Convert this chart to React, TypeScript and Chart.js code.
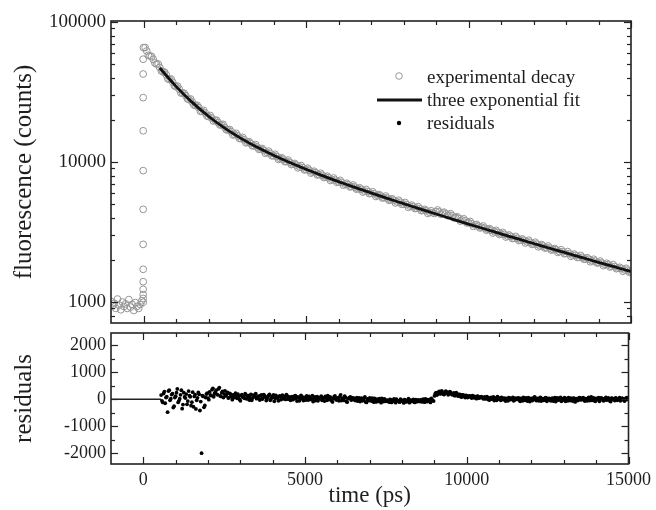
import { useEffect, useRef } from "react";
import { Chart, registerables } from "chart.js";

Chart.register(...registerables);

// ---------- data ----------
const legendLabels = ["experimental decay", "three exponential fit", "residuals"];
const xTickLabels = [0, 5000, 10000, 15000];
const xMinorTicks = [1000, 2000, 3000, 4000, 6000, 7000, 8000, 9000, 11000, 12000, 13000, 14000];
const decayTickLabels = [1000, 10000, 100000];
const decayMinorTicks = [800, 900, 2000, 3000, 4000, 5000, 6000, 7000, 8000, 9000, 20000, 30000, 40000, 50000, 60000, 70000, 80000, 90000];
const residualTickLabels = [-2000, -1000, 0, 1000, 2000];
const residualMinorTicks = [-1500, -500, 500, 1500];

const baselineTimes = [-1000, -950, -900, -850, -800, -750, -700, -650, -600, -550, -500, -450, -400, -350, -300, -250, -200, -150, -100, -50];
const baselineCounts = [1010, 940, 980, 900, 1050, 950, 880, 1000, 930, 970, 900, 1040, 920, 960, 870, 990, 930, 900, 960, 1020];

const riseTime = -10;
const riseCounts = [995, 1060, 1130, 1233, 1396, 1713, 2580, 4590, 8670, 16700, 28800, 42500, 54200];

// decay channels at 0, 100, 200 ... 15000 ps
const decayStartTime = 0;
const decayTimeStep = 100;
const decayCounts = [
  65500, 62100, 57200, 54100, 50000, 47300, 44000, 41900, 38900, 37100,
  34500, 33100, 31000, 29800, 27900, 26800, 25300, 24500, 23000, 22400,
  21100, 20600, 19850, 19100, 18400, 17650, 17000, 16450, 15750, 15350,
  14700, 14400, 13850, 13560, 13050, 12780, 12350, 12130, 11700, 11510,
  11100, 10950, 10590, 10440, 10090, 9950, 9640, 9510, 9230, 9100,
  8830, 8720, 8470, 8370, 8120, 8030, 7800, 7720, 7500, 7420,
  7210, 7140, 6940, 6880, 6680, 6620, 6440, 6380, 6200, 6150,
  5980, 5930, 5770, 5720, 5570, 5520, 5370, 5330, 5190, 5150,
  5010, 4970, 4840, 4800, 4680, 4640, 4520, 4480, 4370, 4340,
  4420, 4400, 4330, 4260, 4180, 4130, 4010, 3960, 3850, 3800,
  3690, 3620, 3550, 3480, 3420, 3370, 3300, 3250, 3180, 3140,
  3070, 3040, 2960, 2940, 2860, 2850, 2770, 2760, 2690, 2670,
  2600, 2590, 2520, 2510, 2440, 2430, 2370, 2360, 2295, 2285,
  2225, 2215, 2160, 2150, 2090, 2085, 2030, 2020, 1970, 1960,
  1910, 1900, 1855, 1845, 1800, 1790, 1745, 1735, 1695, 1685,
  1645,
];
// interleaved channels at 50, 150, 250 ... 14950 ps
const decayMidStartTime = 50;
const decayMidCounts = [
  65700, 57800, 56700, 51000, 50100, 44700, 43800, 39200, 39100, 35100,
  34800, 31100, 31000, 28270, 28170, 25530, 25400, 23040, 23380, 21320,
  21480, 19610, 19860, 18380, 18560, 16970, 17050, 15620, 16020, 14720,
  14990, 13700, 13970, 13030, 13300, 12310, 12480, 11550, 11950, 11070,
  11350, 10450, 10720, 10050, 10320, 9590, 9760, 9090, 9430, 8780,
  9030, 8330, 8590, 8080, 8310, 7750, 7920, 7380, 7680, 7160,
  7390, 6830, 7050, 6640, 6850, 6400, 6540, 6100, 6360, 5940,
  6130, 5670, 5850, 5530, 5710, 5330, 5460, 5100, 5330, 4980,
  5140, 4750, 4920, 4650, 4800, 4490, 4590, 4290, 4480, 4290,
  4540, 4230, 4380, 4140, 4270, 3990, 4060, 3780, 3930, 3670,
  3760, 3470, 3580, 3380, 3490, 3260, 3340, 3110, 3250, 3040,
  3140, 2910, 3010, 2840, 2940, 2750, 2820, 2640, 2760, 2580,
  2670, 2480, 2570, 2430, 2510, 2350, 2410, 2260, 2360, 2210,
  2290, 2120, 2200, 2080, 2150, 2020, 2070, 1940, 2020, 1900,
  1960, 1820, 1890, 1780, 1850, 1730, 1770, 1660, 1740, 1630,
];

const fitTimes = [500, 1000, 1500, 2000, 2500, 3000, 3500, 4000, 4500, 5000, 5500, 6000, 6500, 7000, 7500, 8000, 8500, 9000, 9500, 10000, 10500, 11000, 11500, 12000, 12500, 13000, 13500, 14000, 14500, 15000];
const fitCounts = [46937, 34682, 26640, 21222, 17457, 14746, 12723, 11157, 9902, 8868, 7997, 7246, 6592, 6014, 5501, 5041, 4626, 4251, 3913, 3604, 3322, 3066, 2832, 2618, 2421, 2240, 2073, 1920, 1780, 1650];

// residuals at 550, 600 ... 15000 ps
const residualStartTime = 550;
const residualTimeStep = 50;
const residuals = [
  150, -120, 280, 60, -480, 330, 20, 200, -260, 110, 380, -60, 160, -350, 240, 40, -190, 300, 90, -110,
  -280, 170, -40, 250, -420, -2000, 100, -230, 190, 40, 270, 130, 400, 210, 330, 160, 430, 100, 290, 190,
  120, 250, 60, 180, -20, 140, 220, 30, 110, -60, 170, 80, 200, 10, 130, 60, -40, 150, 90, 20,
  110, -30, 160, 50, 120, -50, 90, 180, 20, 70, -80, 140, 40, 100, -20, 150, 60, -10, 110, 30,
  -40, 90, 20, 130, -70, 60, 10, 100, -50, 40, 120, -30, 70, 0, -90, 80, 30, -60, 50, 110,
  10, -70, 60, 130, -20, 40, -100, 90, 0, 50, -60, 160, 20, -40, 70, -110, 30, 80, -20, 40,
  -50, 60, 10, -90, 40, -30, 80, -120, 0, 50, -70, -20, 30, -100, -40, 20, -130, -60, 10, -80,
  -40, -110, -20, -70, 10, -130, -50, -90, 0, -60, -140, -30, -80, 20, -100, -50, -10, -120, -70, -30,
  -90, -40, 0, -110, -60, -20, -80, 30, -50, 120, 240, 180, 290, 210, 260, 170, 300, 220, 190, 250,
  160, 230, 140, 200, 110, 170, 90, 150, 60, 130, 80, 110, 40, 120, 70, 20, 100, 50, 90, 30,
  80, 10, 60, -30, 70, 20, -50, 40, 90, 0, -40, 50, 10, -70, 30, 60, -20, 20, -60, 40,
  -10, 50, -80, 20, 70, -40, 0, 60, -90, 30, -20, 80, -50, 10, 40, -70, 20, -30, 60, -10,
  30, -60, 40, 0, -90, 50, -20, 70, -40, 10, -80, 30, 60, -50, 0, 40, -100, 20, -30, 50,
  -20, 60, -70, 10, 40, -50, 80, -10, -60, 30, 0, -80, 50, 20, -40, 70, -20, 10, -90, 30,
  0, 50, -40, 20, -60, 40, 10, -30, 60, -10,
];
// interleaved residuals at 575, 625 ... 14975 ps
const residualMidStartTime = 575;
const residualsMid = [
  -60, 210, -150, 90, 300, -40, 170, -310, 60, 240, -120, 20, 330, -200, 80, 190, -70, 130, -240, 260,
  100, -360, 50, 180, -90, 130, -300, 60, 220, -20, 150, 350, 90, 250, 180, 380, 120, 240, 60, 310,
  180, 40, 210, 100, 160, 60, 120, 190, -10, 140, 70, 30, 160, 100, -30, 180, 40, 110, 200, 70,
  40, 130, 0, 170, 80, 20, 140, -40, 90, 160, 30, 70, -60, 120, 50, 10, 100, 170, 0, 80,
  60, -20, 110, 30, 80, -60, 140, 20, 70, -30, 50, 100, -10, 130, 40, -50, 90, 10, 70, -40,
  50, 100, -40, 20, 80, -60, 30, 120, -30, 10, 90, -50, 40, 110, -80, 20, 60, -30, 50, -10,
  20, -70, 50, -20, -60, 30, -100, 10, -50, -10, 40, -110, -30, 0, -80, -40, 30, -90, -20, -60,
  -80, -10, -120, -40, -90, 0, -60, -110, -30, -80, -20, -100, -50, -130, -40, -70, -110, -20, -90, -50,
  -30, -100, -60, 10, -90, -40, -120, -20, -70, 200, 150, 260, 200, 310, 180, 240, 270, 160, 280, 200,
  200, 130, 240, 120, 180, 80, 160, 100, 140, 60, 120, 90, 130, 50, 90, 110, 40, 80, 60, 10,
  30, 90, -20, 50, 0, 80, 30, -40, 60, 20, 70, -20, 40, 0, -60, 50, 10, 70, -30, 20,
  40, -30, 30, -60, 10, 50, -70, 30, 20, -50, 60, -10, 30, -60, 70, 0, -40, 50, -80, 20,
  -40, 20, -70, 60, 10, -30, 40, -80, 20, 60, -20, -60, 10, 40, -70, 30, 0, -50, 60, -20,
  40, -30, 20, -60, 70, 10, -40, 50, -80, 0, 60, -20, 30, -60, 10, -30, 50, -70, 40, 0,
  -50, 30, -20, 60, -30, 10, -70, 40, -10,
];
const preFitResidualTimes = [-1000, 550];
const preFitResiduals = [0, 0];

// ---------- styling ----------
const SERIF = "'Liberation Serif', 'Times New Roman', serif";
const TEXT = "#1e1e1e";
const X_MIN = -1000;
const X_MAX = 15000;

const frameTicks = {
  id: "frameTicks",
  afterDatasetsDraw(chart: any, _args: any, opts: any) {
    const { ctx, chartArea: a, scales } = chart;
    const xs = scales.x;
    const ys = scales.y;
    ctx.save();
    ctx.strokeStyle = "#222";
    ctx.lineWidth = 1.2;
    const seg = (x1: number, y1: number, x2: number, y2: number) => {
      ctx.beginPath();
      ctx.moveTo(x1, y1);
      ctx.lineTo(x2, y2);
      ctx.stroke();
    };
    const xt = (v: number, len: number) => {
      const p = Math.round(xs.getPixelForValue(v)) + 0.5;
      seg(p, a.top, p, a.top + len);
      seg(p, a.bottom, p, a.bottom - len);
    };
    const yt = (v: number, len: number) => {
      const p = Math.round(ys.getPixelForValue(v)) + 0.5;
      seg(a.left, p, a.left + len, p);
      seg(a.right, p, a.right - len, p);
    };
    (opts.xMajor || []).forEach((v: number) => xt(v, 7));
    (opts.xMinor || []).forEach((v: number) => xt(v, 4));
    (opts.yMajor || []).forEach((v: number) => yt(v, 7));
    (opts.yMinor || []).forEach((v: number) => yt(v, 4));
    ctx.lineWidth = 1.6;
    ctx.strokeRect(a.left, a.top, a.right - a.left, a.bottom - a.top);
    ctx.restore();
  },
};

const decayLegend = {
  id: "decayLegend",
  afterDraw(chart: any) {
    const { ctx, chartArea: a } = chart;
    const sx = a.left + 288;
    const tx = a.left + 316;
    const rows = [a.top + 62, a.top + 85, a.top + 108];
    ctx.save();
    ctx.strokeStyle = "#999";
    ctx.lineWidth = 1;
    ctx.beginPath();
    ctx.arc(sx, rows[0] - 7, 3.3, 0, Math.PI * 2);
    ctx.stroke();
    ctx.strokeStyle = "#111";
    ctx.lineWidth = 2.8;
    ctx.beginPath();
    ctx.moveTo(sx - 22, rows[1] - 6);
    ctx.lineTo(sx + 23, rows[1] - 6);
    ctx.stroke();
    ctx.fillStyle = "#000";
    ctx.beginPath();
    ctx.arc(sx, rows[2] - 6, 2.2, 0, Math.PI * 2);
    ctx.fill();
    ctx.fillStyle = TEXT;
    ctx.font = `19px ${SERIF}`;
    ctx.textBaseline = "alphabetic";
    ctx.textAlign = "left";
    legendLabels.forEach((t, i) => ctx.fillText(t, tx, rows[i]));
    ctx.restore();
  },
};

function fixedTicks(values: number[]) {
  return (s: any) => {
    s.ticks = values.map((v) => ({ value: v }));
  };
}

export default function App() {
  const topRef = useRef<HTMLCanvasElement>(null);
  const botRef = useRef<HTMLCanvasElement>(null);

  useEffect(() => {
    const experimental = [
      ...baselineTimes.map((t, i) => ({ x: t, y: baselineCounts[i] })),
      ...riseCounts.map((c) => ({ x: riseTime, y: c })),
      ...decayCounts.map((c, i) => ({ x: decayStartTime + i * decayTimeStep, y: c })),
      ...decayMidCounts.map((c, i) => ({ x: decayMidStartTime + i * decayTimeStep, y: c })),
    ];
    const fit = fitTimes.map((t, i) => ({ x: t, y: fitCounts[i] }));
    const resid = [
      ...residuals.map((r, i) => ({ x: residualStartTime + i * residualTimeStep, y: r })),
      ...residualsMid.map((r, i) => ({ x: residualMidStartTime + i * residualTimeStep, y: r })),
    ];
    const zeroResid = preFitResidualTimes.map((t, i) => ({ x: t, y: preFitResiduals[i] }));

    const top = new Chart(topRef.current as HTMLCanvasElement, {
      type: "scatter",
      data: {
        datasets: [
          {
            label: legendLabels[1],
            data: fit,
            showLine: true,
            borderColor: "#111",
            borderWidth: 2.8,
            pointRadius: 0,
            tension: 0.4,
            order: 1,
          } as any,
          {
            label: legendLabels[0],
            data: experimental,
            pointRadius: 3.4,
            pointBorderWidth: 1,
            pointBorderColor: "#959595",
            pointBackgroundColor: "rgba(255,255,255,0)",
            showLine: false,
            order: 2,
          } as any,
        ],
      },
      options: {
        responsive: false,
        animation: false,
        layout: { padding: { left: 0, right: 25, top: 21, bottom: 17 } },
        plugins: {
          legend: { display: false },
          tooltip: { enabled: false },
          frameTicks: { xMajor: xTickLabels, xMinor: xMinorTicks, yMajor: decayTickLabels, yMinor: decayMinorTicks },
        } as any,
        scales: {
          x: { type: "linear", min: X_MIN, max: X_MAX, display: false },
          y: {
            type: "logarithmic",
            min: 708,
            max: 101600,
            afterFit: (s: any) => {
              s.width = 111;
            },
            afterBuildTicks: fixedTicks(decayTickLabels),
            grid: { display: false, drawTicks: false },
            border: { display: false },
            ticks: {
              autoSkip: false,
              padding: 5,
              color: TEXT,
              font: { family: SERIF, size: 19 },
              callback: (v: any) => String(v),
            },
            title: {
              display: true,
              text: "fluorescence (counts)",
              color: TEXT,
              font: { family: SERIF, size: 25 },
              padding: { top: 9, bottom: 0 },
            },
          },
        },
      } as any,
      plugins: [frameTicks, decayLegend],
    });

    const bot = new Chart(botRef.current as HTMLCanvasElement, {
      type: "scatter",
      data: {
        datasets: [
          {
            label: legendLabels[2],
            data: resid,
            pointRadius: 1.9,
            pointBorderWidth: 0,
            pointBackgroundColor: "#000",
            showLine: false,
          } as any,
          {
            label: "pre-fit",
            data: zeroResid,
            showLine: true,
            borderColor: "#222",
            borderWidth: 1.5,
            pointRadius: 0,
          } as any,
        ],
      },
      options: {
        responsive: false,
        animation: false,
        layout: { padding: { left: 0, right: 25, top: 23, bottom: 0 } },
        plugins: {
          legend: { display: false },
          tooltip: { enabled: false },
          frameTicks: { xMajor: xTickLabels, xMinor: xMinorTicks, yMajor: residualTickLabels, yMinor: residualMinorTicks },
        } as any,
        scales: {
          x: {
            type: "linear",
            min: X_MIN,
            max: X_MAX,
            afterFit: (s: any) => {
              s.height = 46;
            },
            afterBuildTicks: fixedTicks(xTickLabels),
            grid: { display: false, drawTicks: false },
            border: { display: false },
            ticks: {
              autoSkip: false,
              maxRotation: 0,
              padding: 5,
              color: TEXT,
              font: { family: SERIF, size: 18 },
              callback: (v: any) => String(v),
            },
            title: {
              display: true,
              text: "time (ps)",
              color: TEXT,
              font: { family: SERIF, size: 23 },
              padding: { top: 0, bottom: 0 },
            },
          },
          y: {
            type: "linear",
            min: -2400,
            max: 2450,
            afterFit: (s: any) => {
              s.width = 111;
            },
            afterBuildTicks: fixedTicks(residualTickLabels),
            grid: { display: false, drawTicks: false },
            border: { display: false },
            ticks: {
              autoSkip: false,
              padding: 5,
              color: TEXT,
              font: { family: SERIF, size: 18 },
              callback: (v: any) => String(v),
            },
            title: {
              display: true,
              text: "residuals",
              color: TEXT,
              font: { family: SERIF, size: 25 },
              padding: { top: 9, bottom: 0 },
            },
          },
        },
      } as any,
      plugins: [frameTicks],
    });

    return () => {
      top.destroy();
      bot.destroy();
    };
  }, []);

  return (
    <div style={{ position: "absolute", left: 0, top: 0, width: 656, height: 510, background: "#fff", overflow: "hidden" }}>
      <canvas
        ref={topRef}
        width={656}
        height={340}
        style={{ position: "absolute", left: 0, top: 0, width: 656, height: 340 }}
      />
      <canvas
        ref={botRef}
        width={656}
        height={200}
        style={{ position: "absolute", left: 0, top: 310, width: 656, height: 200 }}
      />
    </div>
  );
}
